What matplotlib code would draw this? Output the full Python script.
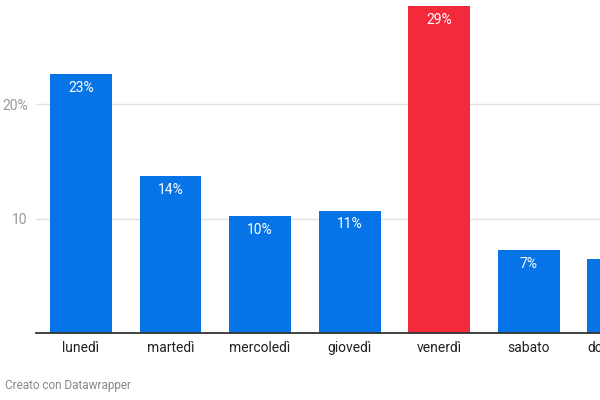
import matplotlib
matplotlib.use("Agg")
import matplotlib.pyplot as plt
import numpy as np

giorni = ["lunedì", "martedì", "mercoledì", "giovedì", "venerdì", "sabato", "domenica"]
valori = [22.6, 13.7, 10.2, 10.7, 28.6, 7.25, 6.5]
etichette = ["23%", "14%", "10%", "11%", "29%", "7%", "6%"]
colori = ["#0673e6", "#0673e6", "#0673e6", "#0673e6", "#f22a3c", "#0673e6", "#0673e6"]
yticks = [10, 20]
ytick_labels = ["10", "20%"]

plt.rcParams['font.family'] = ['Roboto', 'DejaVu Sans']

fig = plt.figure(figsize=(6, 4), dpi=100)
# the chart runs past the right edge of the picture, like the original
ax = fig.add_axes([0.06, 0.1675, 1.045, 0.8325])

x = np.arange(len(giorni))
ax.bar(x, valori, width=0.69, color=colori, zorder=2)
for xi, v, lab in zip(x, valori, etichette):
    ax.text(xi, v - 0.6, lab, ha='center', va='top', color='white', fontsize=10, zorder=3)

ax.set_yticks(yticks)
ax.set_yticklabels(ytick_labels)
ax.set_xticks(x)
ax.set_xticklabels(giorni, fontsize=10, color='#222222')
ax.set_xlim(-0.503, 6.5)
ax.set_ylim(0, 29.1)
ax.yaxis.grid(True, color='#e3e3e3', linewidth=1, zorder=0)
ax.tick_params(axis='x', length=0, pad=6)
ax.tick_params(axis='y', length=0, pad=6, labelsize=10, labelcolor='#999999')

for s in ['top', 'right', 'left']:
    ax.spines[s].set_visible(False)
ax.spines['bottom'].set_color('#333333')
ax.spines['bottom'].set_linewidth(1.3)
ax.spines['bottom'].set_zorder(4)

fig.text(0.008, 0.035, "Creato con Datawrapper", fontsize=8.5, color='#888888', ha='left', va='center')

fig.savefig("out.png", dpi=100)
